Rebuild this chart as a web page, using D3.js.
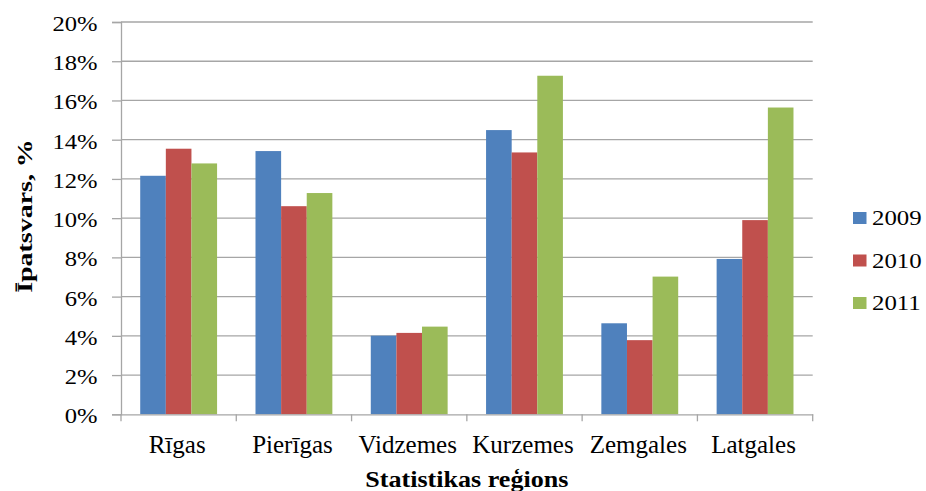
<!DOCTYPE html>
<html>
<head>
<meta charset="utf-8">
<script src="https://cdn.jsdelivr.net/npm/d3@7"></script>
<style>
  html, body { margin: 0; padding: 0; background: #fff; }
  svg { display: block; }
  text { font-family: "Liberation Serif", "Times New Roman", serif; fill: #000; }
</style>
</head>
<body>
<svg id="chart" width="926" height="491"></svg>
<script>
const categories = ["Rīgas", "Pierīgas", "Vidzemes", "Kurzemes", "Zemgales", "Latgales"];
const seriesNames = ["2009", "2010", "2011"];
const values2009 = [12.16, 13.42, 4.01, 14.49, 4.64, 7.92];
const values2010 = [13.54, 10.61, 4.15, 13.35, 3.78, 9.90];
const values2011 = [12.79, 11.28, 4.47, 17.26, 7.02, 15.64];
const yTicks = [0, 2, 4, 6, 8, 10, 12, 14, 16, 18, 20];
const colors = ["#4F81BD", "#C0504D", "#9BBB59"];
const xTitle = "Statistikas reģions";
const yTitle = "Īpatsvars, %";

const seriesValues = [values2009, values2010, values2011];

const svg = d3.select("#chart");
const pLeft = 121, pRight = 812.7, pTop = 22, pBottom = 414.3;

const x = d3.scaleBand().domain(categories).range([pLeft, pRight]).paddingInner(0).paddingOuter(0);
const bw = x.bandwidth();
const barW = bw / 4.5; // gap width 150%
const xs = d3.scaleBand().domain(seriesNames).range([0.75 * barW, 3.75 * barW]).padding(0);
const y = d3.scaleLinear().domain([0, 20]).range([pBottom, pTop]);

const grid = "#A6A6A6";

// gridlines
svg.append("g").selectAll("line").data(yTicks.filter(t => t > 0)).join("line")
  .attr("x1", pLeft).attr("x2", pRight)
  .attr("y1", d => y(d)).attr("y2", d => y(d))
  .attr("stroke", grid).attr("stroke-width", 1.3);

// y axis with ticks
const yAxis = d3.axisLeft(y).tickValues(yTicks).tickSize(9).tickFormat(d => d + "%");
const gy = svg.append("g").attr("transform", `translate(${pLeft},0)`).call(yAxis);
gy.select(".domain").attr("stroke", grid).attr("stroke-width", 1.3);
gy.selectAll(".tick line").attr("stroke", grid).attr("stroke-width", 1.3);
gy.selectAll(".tick text")
  .attr("x", null).attr("dy", null)
  .attr("text-anchor", "end")
  .style("font-size", "20.5px")
  .attr("fill", "#000")
  .attr("transform", "translate(-23.5,8.4) scale(1.2,1)");

// bars
const groups = svg.append("g").selectAll("g").data(categories).join("g")
  .attr("transform", d => `translate(${x(d)},0)`);
groups.selectAll("rect").data((d, i) => seriesNames.map((s, j) => ({ s, j, v: seriesValues[j][i] })))
  .join("rect")
  .attr("x", d => xs(d.s))
  .attr("width", xs.bandwidth())
  .attr("y", d => y(d.v))
  .attr("height", d => pBottom - y(d.v))
  .attr("fill", d => colors[d.j]);

// x axis
const xAxis = d3.axisBottom(x).tickSize(0).tickFormat(d => d);
const gx = svg.append("g").attr("transform", `translate(0,${pBottom})`).call(xAxis);
gx.select(".domain").attr("stroke", grid).attr("stroke-width", 1.3);
gx.selectAll(".tick text").attr("y", 39).attr("dy", null)
  .style("font-size", "25px").attr("fill", "#000")
  .attr("transform", "translate(-1.5,0)");
// category separator ticks
const sepPositions = categories.map(c => x(c)).concat([pRight]);
gx.selectAll(".sep").data(sepPositions).join("line").attr("class", "sep")
  .attr("x1", d => d).attr("x2", d => d).attr("y1", 0).attr("y2", 7)
  .attr("stroke", grid).attr("stroke-width", 1.3);

// axis titles
svg.append("text")
  .attr("transform", `translate(${(pLeft + pRight) / 2},486.5) scale(1.11,1)`)
  .attr("text-anchor", "middle")
  .style("font-size", "23.5px").style("font-weight", "bold")
  .text(xTitle);
svg.append("text")
  .attr("transform", `translate(32,216) rotate(-90) scale(1.27,1)`)
  .attr("text-anchor", "middle")
  .style("font-size", "22px").style("font-weight", "bold")
  .text(yTitle);

// legend
const legendY = d3.scalePoint().domain(seriesNames).range([225, 310]);
const lg = svg.append("g").selectAll("g").data(seriesNames).join("g")
  .attr("transform", d => `translate(853,${legendY(d)})`);
lg.append("rect").attr("x", 0).attr("y", -13).attr("width", 13.5).attr("height", 12)
  .attr("fill", (d, i) => colors[i]);
lg.append("text").attr("transform", "translate(19,0) scale(1.13,1)")
  .style("font-size", "22px").text(d => d);
</script>
</body>
</html>
